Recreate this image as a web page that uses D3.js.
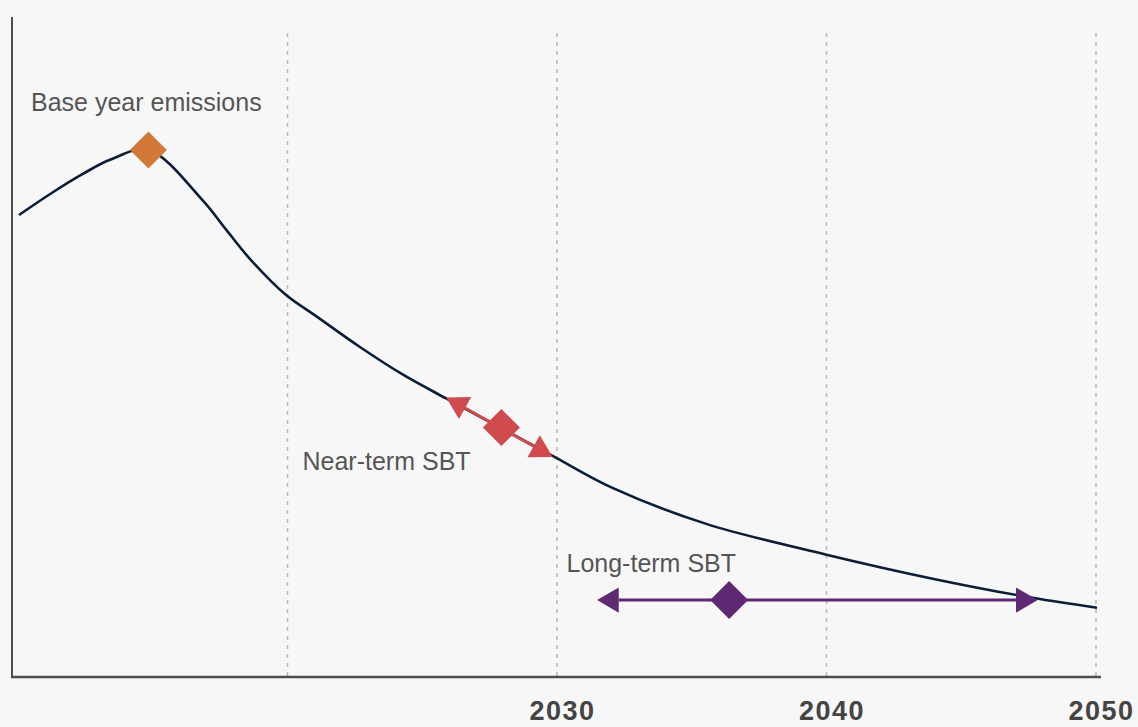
<!DOCTYPE html>
<html>
<head>
<meta charset="utf-8">
<script src="https://cdn.jsdelivr.net/npm/d3@7"></script>
<style>
  html, body { margin: 0; padding: 0; background: #f7f7f7; }
  svg { display: block; }
</style>
</head>
<body>
<svg id="chart" width="1138" height="727"></svg>
<script>
// ---- data ----
const curveYears  = [2010, 2011.2, 2012.4, 2013.4, 2014.8, 2016.8, 2017.7, 2018.6, 2019.9, 2021.05, 2022.65, 2024.25, 2025.85, 2027.9, 2029.85, 2032.0, 2035.5, 2040.0, 2043.9, 2047.6, 2050];
const curveValues = [70.0, 73.3, 76.3, 78.4, 79.85, 72.3, 67.7, 63.2, 57.9, 54.6, 50.0, 45.8, 42.2, 37.7, 33.4, 28.7, 23.2, 18.5, 14.9, 12.0, 10.5];

const baseYear = [2014.8];
const baseValue = [79.85];

const nearTermRangeYears  = [2025.85, 2029.8];
const nearTermRangeValues = [42.2, 33.2];
const nearTermTarget = [2027.9, 37.8];

const longTermRangeYears = [2031.45, 2047.8];
const longTermValue = [11.65];
const longTermTargetYear = [2036.35];

const gridYears = [2020, 2030, 2040, 2050];
const tickLabels = ["", "2030", "2040", "2050"];

const annotationTexts = ["Base year emissions", "Near-term SBT", "Long-term SBT"];

// ---- layout ----
const svg = d3.select("#chart");
const x = d3.scaleLinear().domain([2010, 2050]).range([19, 1097]);
const y = d3.scaleLinear().domain([0, 100]).range([677, 17]);

const colors = {
  curve: "#0c1d36", orange: "#d2793a", red: "#cf4b4e", purple: "#5e2873",
  grid: "#b8b8b8", axis: "#4d4d4d", text: "#555555", tick: "#444444"
};

svg.append("rect").attr("width", 1138).attr("height", 727).attr("fill", "#f7f7f7");

// gridlines
svg.append("g").selectAll("line").data(gridYears).join("line")
  .attr("x1", d => x(d) - 1).attr("x2", d => x(d) - 1)
  .attr("y1", 33).attr("y2", 676)
  .attr("stroke", colors.grid).attr("stroke-width", 1.5)
  .attr("stroke-dasharray", "4,5");

// axes lines
svg.append("line").attr("x1", 12).attr("x2", 12).attr("y1", 17).attr("y2", 677.5)
  .attr("stroke", colors.axis).attr("stroke-width", 2);
svg.append("line").attr("x1", 11).attr("x2", 1101).attr("y1", y(0)).attr("y2", y(0))
  .attr("stroke", colors.axis).attr("stroke-width", 2.5);

// tick labels
svg.append("g").selectAll("text").data(gridYears).join("text")
  .attr("x", d => x(d) + 4.5).attr("y", 720)
  .attr("text-anchor", "middle")
  .attr("font-family", "'Liberation Sans', Arial, sans-serif")
  .attr("font-weight", "bold").attr("font-size", 27)
  .attr("letter-spacing", 1.5)
  .attr("fill", colors.tick)
  .text((d, i) => tickLabels[i]);

// emissions curve
const pts = curveYears.map((yr, i) => [yr, curveValues[i]]);
const line = d3.line().x(d => x(d[0])).y(d => y(d[1])).curve(d3.curveCatmullRom.alpha(0.5));
svg.append("path").datum(pts).attr("d", line)
  .attr("fill", "none").attr("stroke", colors.curve).attr("stroke-width", 2.6)
  .attr("stroke-linejoin", "round");

// helpers
function diamond(cx, cy, r) {
  return `M${cx},${cy - r}L${cx + r},${cy}L${cx},${cy + r}L${cx - r},${cy}Z`;
}
function arrowHead(tipX, tipY, fromX, fromY, len, half) {
  const a = Math.atan2(tipY - fromY, tipX - fromX);
  const bx = tipX - len * Math.cos(a), by = tipY - len * Math.sin(a);
  const px = -Math.sin(a) * half, py = Math.cos(a) * half;
  return { d: `M${tipX},${tipY}L${bx + px},${by + py}L${bx - px},${by - py}Z`, bx, by };
}
function doubleArrow(x1, y1, x2, y2, color, width) {
  const g = svg.append("g");
  const h1 = arrowHead(x1, y1, x2, y2, 21.7, 12.6);
  const h2 = arrowHead(x2, y2, x1, y1, 21.7, 12.6);
  g.append("line").attr("x1", h1.bx).attr("y1", h1.by).attr("x2", h2.bx).attr("y2", h2.by)
    .attr("stroke", color).attr("stroke-width", width);
  g.append("path").attr("d", h1.d).attr("fill", color);
  g.append("path").attr("d", h2.d).attr("fill", color);
}

// near-term arrow
doubleArrow(x(nearTermRangeYears[0]), y(nearTermRangeValues[0]) - 1,
            x(nearTermRangeYears[1]), y(nearTermRangeValues[1]) - 1, colors.red, 3);
svg.append("path").attr("d", diamond(x(nearTermTarget[0]), y(nearTermTarget[1]), 18.5)).attr("fill", colors.red);

// long-term arrow
doubleArrow(x(longTermRangeYears[0]), y(longTermValue[0]),
            x(longTermRangeYears[1]), y(longTermValue[0]), colors.purple, 3);
svg.append("path").attr("d", diamond(x(longTermTargetYear[0]), y(longTermValue[0]), 19)).attr("fill", colors.purple);

// base-year marker
svg.append("path").attr("d", diamond(x(baseYear[0]), y(baseValue[0]), 18.5)).attr("fill", colors.orange);

// annotations
const textPos = [[31, 111], [302.5, 470], [566.5, 571.5]];
svg.append("g").selectAll("text").data(annotationTexts).join("text")
  .attr("x", (d, i) => textPos[i][0]).attr("y", (d, i) => textPos[i][1])
  .attr("font-family", "'Liberation Sans', Arial, sans-serif")
  .attr("font-size", 25).attr("fill", colors.text)
  .text(d => d);
</script>
</body>
</html>
